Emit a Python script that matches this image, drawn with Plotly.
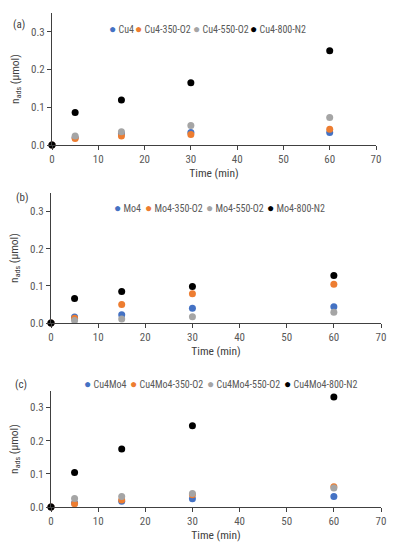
import plotly.graph_objects as go

time_min = [0, 5, 15, 30, 60]

names_a = ["Cu4", "Cu4-350-O2", "Cu4-550-O2", "Cu4-800-N2"]
cu4 = [0, 0.020, 0.030, 0.033, 0.033]
cu4_350 = [0, 0.017, 0.024, 0.028, 0.042]
cu4_550 = [0, 0.024, 0.035, 0.052, 0.073]
cu4_800 = [0, 0.086, 0.119, 0.165, 0.250]

names_b = ["Mo4", "Mo4-350-O2", "Mo4-550-O2", "Mo4-800-N2"]
mo4 = [0, 0.016, 0.022, 0.040, 0.044]
mo4_350 = [0, 0.013, 0.050, 0.079, 0.104]
mo4_550 = [0, 0.007, 0.011, 0.017, 0.029]
mo4_800 = [0, 0.066, 0.085, 0.098, 0.128]

names_c = ["Cu4Mo4", "Cu4Mo4-350-O2", "Cu4Mo4-550-O2", "Cu4Mo4-800-N2"]
cumo = [0, 0.012, 0.017, 0.025, 0.032]
cumo_350 = [0, 0.010, 0.021, 0.037, 0.061]
cumo_550 = [0, 0.026, 0.032, 0.041, 0.057]
cumo_800 = [0, 0.104, 0.175, 0.245, 0.332]

panel_labels = ["(a)", "(b)", "(c)"]
colors = ["#4472C4", "#ED7D31", "#A5A5A5", "#000000"]

FONT = "Roboto Condensed"
TXT = "#595959"

panels = [
    (names_a, [cu4, cu4_350, cu4_550, cu4_800]),
    (names_b, [mo4, mo4_350, mo4_550, mo4_800]),
    (names_c, [cumo, cumo_350, cumo_550, cumo_800]),
]

W, H = 393, 550
# pixel geometry: (x0, x1, y_bottom, y_top, legend_y, label_x, label_y)
geo = [
    (52, 376, 145, 13, 29, 19, 24),
    (51, 381, 323, 193, 208, 22, 197),
    (51, 381, 507, 391, 384, 21, 384),
]
legend_x = [
    [111, 137, 195, 252],
    [116, 147, 208, 269],
    [86, 132, 209, 286],
]

fig = go.Figure()
annotations = []
for i, ((names, series), g) in enumerate(zip(panels, geo)):
    x0, x1, yb, yt, ly, labx, laby = g
    ax = "" if i == 0 else str(i + 1)
    for name, vals, col in zip(names, series, colors):
        fig.add_trace(go.Scatter(
            x=time_min, y=vals, mode="markers", name=name,
            marker=dict(color=col, size=7),
            xaxis="x" + ax, yaxis="y" + ax, showlegend=False, cliponaxis=False,
        ))
    common = dict(showgrid=False, zeroline=False, showline=True, linecolor="#404040",
                  linewidth=1, ticks="outside", ticklen=4, tickcolor="#404040",
                  automargin=False,
                  tickfont=dict(family=FONT, size=11, color=TXT))
    fig.update_layout(**{
        "xaxis" + ax: dict(domain=[x0 / W, x1 / W], range=[0, 70], dtick=10,
                           anchor="y" + ax,
                           title=dict(text="Time (min)", standoff=3,
                                      font=dict(family=FONT, size=11.5, color="#404040")),
                           **common),
        "yaxis" + ax: dict(domain=[1 - yb / H, 1 - yt / H], range=[0, 0.35], dtick=0.1,
                           tickformat=".1f", anchor="x" + ax,
                           title=dict(text="n<sub>ads</sub> (µmol)", standoff=9,
                                      font=dict(family=FONT, size=11.5, color="#404040")),
                           **common),
    })
    for name, col, mx in zip(names, colors, legend_x[i]):
        annotations.append(dict(
            text=f'<span style="color:{col};font-size:12px">●</span> {name}',
            xref="paper", yref="paper", x=(mx - 4) / W, y=1 - ly / H,
            xanchor="left", yanchor="middle", showarrow=False,
            font=dict(family=FONT, size=10, color=TXT)))
    annotations.append(dict(
        text=panel_labels[i], xref="paper", yref="paper", x=labx / W, y=1 - laby / H,
        xanchor="center", yanchor="middle", showarrow=False,
        font=dict(family=FONT, size=11, color="#404040")))

fig.update_layout(
    width=W, height=H, margin=dict(l=0, r=0, t=0, b=0),
    paper_bgcolor="white", plot_bgcolor="white",
    annotations=annotations,
)
fig.write_html("out.html", config={"displayModeBar": False},
               post_script="document.body.style.margin='0px';document.body.style.overflow='hidden';")
